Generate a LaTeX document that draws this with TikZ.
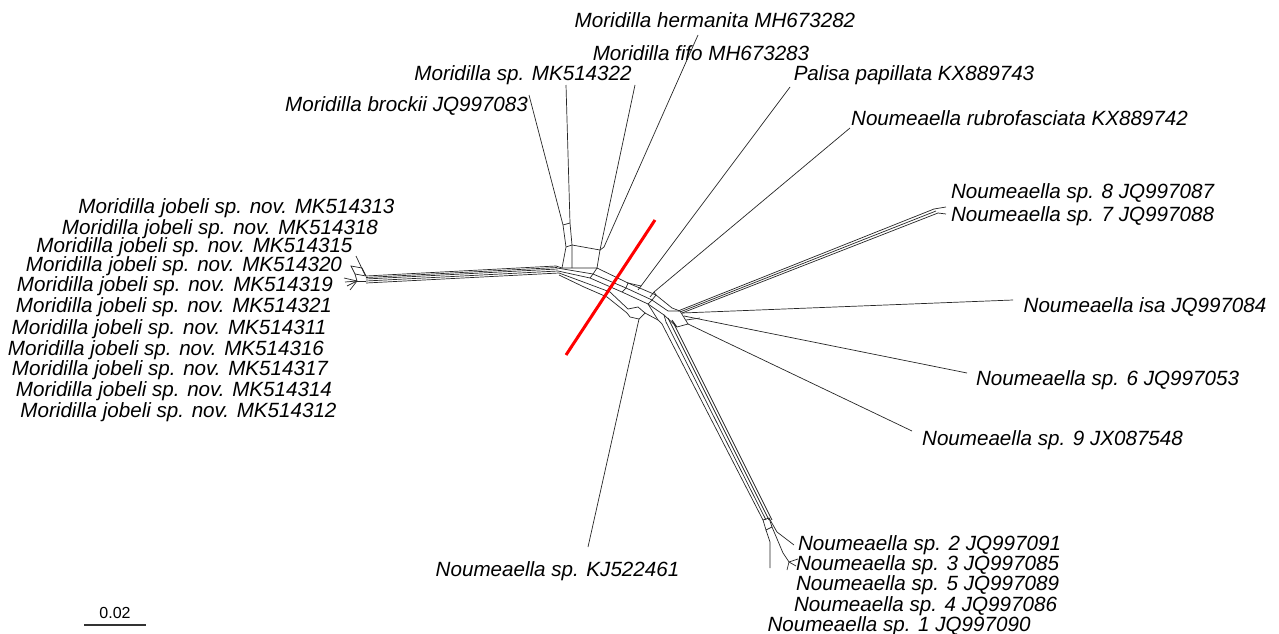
\documentclass[tikz,border=0pt]{standalone}
\usepackage{fontspec}
\setmainfont{Liberation Sans}
\begin{document}
\begin{tikzpicture}[x=1pt,y=-1pt,
  edge/.style={line width=0.7pt,black!85},
  taxon/.style={anchor=base,inner sep=0pt,font=\fontsize{20.6}{24}\selectfont\itshape},
  scalelbl/.style={anchor=base,inner sep=0pt,font=\fontsize{16}{18}\selectfont}]
\useasboundingbox (0,0) rectangle (1279,634);

% ---------- taxon labels ----------
\node[taxon] (hermanita) at (715,28) {Moridilla hermanita MH673282};
\node[taxon] (fifo) at (701,60) {Moridilla fifo MH673283};
\node[taxon] (mk322) at (523,81) {Moridilla sp. MK514322};
\node[taxon] (palisa) at (914,81) {Palisa papillata KX889743};
\node[taxon] (brockii) at (406.5,111) {Moridilla brockii JQ997083};
\node[taxon] (rubro) at (1019.5,125) {Noumeaella rubrofasciata KX889742};
\node[taxon] (n8) at (1082.5,198) {Noumeaella sp. 8 JQ997087};
\node[taxon] (n7) at (1082.5,221) {Noumeaella sp. 7 JQ997088};
\node[taxon] (isa) at (1145,312) {Noumeaella isa JQ997084};
\node[taxon] (n6) at (1107.5,385) {Noumeaella sp. 6 JQ997053};
\node[taxon] (n9) at (1052.5,445) {Noumeaella sp. 9 JX087548};
\node[taxon] (kj) at (557.5,576) {Noumeaella sp. KJ522461};
\node[taxon] (n2) at (929.5,550) {Noumeaella sp. 2 JQ997091};
\node[taxon] (n3) at (927.5,570) {Noumeaella sp. 3 JQ997085};
\node[taxon] (n5) at (927.5,590) {Noumeaella sp. 5 JQ997089};
\node[taxon] (n4) at (925.5,611) {Noumeaella sp. 4 JQ997086};
\node[taxon] (n1) at (899,631) {Noumeaella sp. 1 JQ997090};

\node[taxon] (j313) at (236.5,213.5) {Moridilla jobeli sp. nov. MK514313};
\node[taxon] (j318) at (220,234) {Moridilla jobeli sp. nov. MK514318};
\node[taxon] (j315) at (194.5,252.5) {Moridilla jobeli sp. nov. MK514315};
\node[taxon] (j320) at (184,271.5) {Moridilla jobeli sp. nov. MK514320};
\node[taxon] (j319) at (175,291) {Moridilla jobeli sp. nov. MK514319};
\node[taxon] (j321) at (174,312) {Moridilla jobeli sp. nov. MK514321};
\node[taxon] (j311) at (169,334) {Moridilla jobeli sp. nov. MK514311};
\node[taxon] (j316) at (166,355) {Moridilla jobeli sp. nov. MK514316};
\node[taxon] (j317) at (170,375) {Moridilla jobeli sp. nov. MK514317};
\node[taxon] (j314) at (174,396) {Moridilla jobeli sp. nov. MK514314};
\node[taxon] (j312) at (178.5,417) {Moridilla jobeli sp. nov. MK514312};

% ---------- jobeli cluster ----------
\draw[edge] (356,256) -- (365,275);
\draw[edge] (351,266) -- (362,268) -- (366,276) -- (355,274) -- cycle;
\draw[edge] (355,274) -- (357,281);
\draw[edge] (357,281) -- (344,278);
\draw[edge] (357,281) -- (345,282);
\draw[edge] (357,281) -- (347,286);
\draw[edge] (357,281) -- (350,290);
\draw[edge] (357,281) -- (366,281);

% ---------- long backbone ----------
\draw[edge] (366,276) -- (556,266);
\draw[edge] (366,277.5) -- (557,267.5);
\draw[edge] (366,279) -- (557.5,269);
\draw[edge] (366,281) -- (558,271);
\draw[edge] (366,283) -- (559,273);

% ---------- upper Moridilla splits ----------
\draw[edge] (529,95) -- (563,225) -- (566,247) -- (562,268);
\draw[edge] (566,85) -- (570,223) -- (572,245) -- (572,268);
\draw[edge] (563,225) -- (570,223);
\draw[edge] (566,247) -- (572,245);
\draw[edge] (572,245) -- (600,250) -- (597,268);
\draw[edge] (635,85) -- (600,250);
\draw[edge] (698,35) -- (604,247) -- (600,250);
\draw[edge] (556,266) -- (562,268) -- (572,268) -- (597,268);

% ---------- central arc ----------
\draw[edge] (597,268) -- (628,283) -- (656,295) -- (672,308);
\draw[edge] (557,268) -- (593,274) -- (626,288) -- (652,300) -- (668,311);
\draw[edge] (558,271) -- (590,278) -- (622,292) -- (648,304) -- (664,315);
\draw[edge] (559,273) -- (586,283) -- (610,292) -- (628,309);
\draw[edge] (559,275) -- (584,287) -- (607,297) -- (627,313);
\draw[edge] (593,274) -- (590,278);
\draw[edge] (597,268) -- (593,274);
\draw[edge] (628,283) -- (626,288) -- (622,292);
\draw[edge] (656,295) -- (652,300) -- (648,304);
% pentagon and KJ522461
\draw[edge] (628,309) -- (638,307) -- (645,313) -- (639,319) -- (630,317) -- (627,313);
\draw[edge] (639,319) -- (588,547);
\draw[edge] (645,313) -- (658,320);
\draw[edge] (648,304) -- (658,320);

% Palisa and rubrofasciata
\draw[edge] (790,87) -- (641,286) -- (628,283);
\draw[edge] (641,286) -- (638,290);
\draw[edge] (850,128) -- (654,292) -- (656,295);
\draw[edge] (654,292) -- (650,297);

% ---------- right fan ----------
\draw[edge] (668,311) -- (680,311) -- (688,324) -- (677,327) -- (664,315);
\draw[edge] (672,308) -- (680,311);
\draw[edge] (678,311) -- (934,209);
\draw[edge] (680,312) -- (936,211);
\draw[edge] (682,313) -- (938,213);
\draw[edge] (934,209) -- (946,207);
\draw[edge] (938,213) -- (946,214);
\draw[edge] (682,313) -- (1013,300);
\draw[edge] (684,316) -- (967,373);
\draw[edge] (688,324) -- (912,431);
\draw[edge] (686,320) -- (700,318);

% ---------- lower branch to sp. 1-5 ----------
\draw[edge] (658,320) -- (662,324) -- (763,520);
\draw[edge] (664,315) -- (666,322) -- (766,520);
\draw[edge] (668,318) -- (769,520);
\draw[edge] (677,327) -- (672,320) -- (772,520);
\draw[edge] (763,520) -- (769,518) -- (772,527) -- (766,530) -- cycle;
\draw[edge] (769,518) -- (777,532) -- (794,545);
\draw[edge] (766,530) -- (770,542) -- (770,568);
\draw[edge] (772,527) -- (783,553) -- (789,562);
\draw[edge] (789,562) -- (798,559);
\draw[edge] (789,562) -- (796,566);
\draw[edge] (789,562) -- (787,570);

% ---------- split marker ----------
\coordinate (cutA) at (655,220);
\coordinate (cutB) at (566,355);
\draw[red,line width=3pt] (cutA) -- (cutB);

% ---------- scale bar ----------
\node[scalelbl] (sclbl) at (115,618) {0.02};
\coordinate (scL) at (84,625);
\coordinate (scR) at (146,625);
\draw[line width=1.5pt,black!80] (scL) -- (scR);
\end{tikzpicture}
\end{document}
